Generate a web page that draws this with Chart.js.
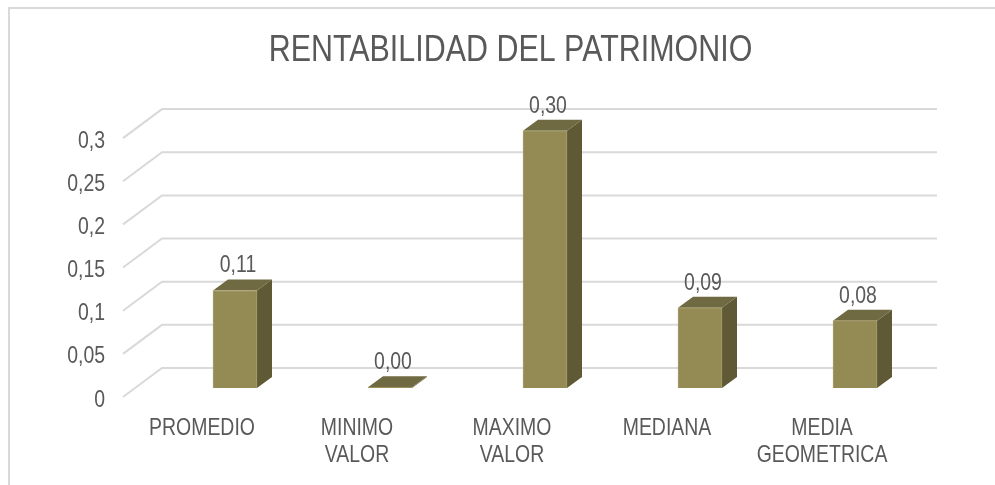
<!DOCTYPE html>
<html>
<head>
<meta charset="utf-8">
<style>
html, body { margin: 0; background: #fff; overflow: hidden; }
#wrap { position: relative; width: 995px; height: 485px; overflow: hidden; }
#frame { position: absolute; left: 8px; top: 7px; right: -5px; bottom: -5px; border: 2px solid #d9d9d9; }
canvas { position: absolute; left: 0; top: 0; }
</style>
<script src="https://cdn.jsdelivr.net/npm/chart.js@4"></script>
</head>
<body>
<div id="wrap"><div id="frame"></div><canvas id="roeChart" width="995" height="485"></canvas></div>
<script>
const categories = ['PROMEDIO', ['MINIMO', 'VALOR'], ['MAXIMO', 'VALOR'], 'MEDIANA', ['MEDIA', 'GEOMETRICA']];
const values = [0.113, 0.001, 0.298, 0.093, 0.078];
const valueLabels = ['0,11', '0,00', '0,30', '0,09', '0,08'];
const chartTitle = 'RENTABILIDAD DEL PATRIMONIO';

const fontName = '"Liberation Sans", Arial, sans-serif';
const textColor = '#595959';

// profundidad del grafico 3D
const wallDx = 39, wallDy = -29;
const barDx = 34.5, barDy = -9;
const sideDx = 15, sideDy = -11;

const ctx = document.getElementById('roeChart').getContext('2d');

// no hay Arial Narrow instalada: se estrecha el texto en horizontal
const textSqueeze = 0.81;
const plainFillText = ctx.fillText.bind(ctx);
ctx.fillText = function(text, x, y) {
    ctx.save();
    ctx.translate(x, y);
    ctx.scale(textSqueeze, 1);
    plainFillText(text, 0, 0);
    ctx.restore();
};

// paredes: lineas de cuadricula con la diagonal lateral
const wallPlugin = {
    id: 'wall',
    beforeDatasetsDraw(chart) {
        const y = chart.scales.y, a = chart.chartArea;
        ctx.save();
        ctx.strokeStyle = '#d9d9d9';
        ctx.lineWidth = 2;
        y.ticks.forEach(t => {
            const py = y.getPixelForValue(t.value);
            ctx.beginPath();
            ctx.moveTo(a.left, py);
            ctx.lineTo(a.left + wallDx, py + wallDy);
            ctx.lineTo(a.right + wallDx, py + wallDy);
            ctx.stroke();
        });
        ctx.restore();
        // las barras van desplazadas respecto al plano frontal
        ctx.save();
        ctx.translate(barDx, barDy);
        chart.getDatasetMeta(0).data.forEach(bar => {
            const l = bar.x - bar.width / 2, r = bar.x + bar.width / 2;
            ctx.fillStyle = '#5f5a35';
            ctx.beginPath();
            ctx.moveTo(r, bar.y);
            ctx.lineTo(r + sideDx, bar.y + sideDy);
            ctx.lineTo(r + sideDx, bar.base + sideDy);
            ctx.lineTo(r, bar.base);
            ctx.closePath();
            ctx.fill();
            ctx.fillStyle = '#6f6a41';
            ctx.beginPath();
            ctx.moveTo(l, bar.y);
            ctx.lineTo(l + sideDx, bar.y + sideDy);
            ctx.lineTo(r + sideDx, bar.y + sideDy);
            ctx.lineTo(r, bar.y);
            ctx.closePath();
            ctx.fill();
        });
    },
    afterDatasetsDraw(chart) {
        ctx.restore();
        ctx.save();
        ctx.fillStyle = textColor;
        ctx.font = '24px ' + fontName;
        ctx.textAlign = 'center';
        ctx.textBaseline = 'alphabetic';
        chart.getDatasetMeta(0).data.forEach((bar, i) => {
            ctx.fillText(valueLabels[i], bar.x + barDx + 3, bar.y + barDy - 18);
        });
        ctx.restore();
    }
};

new Chart(ctx, {
    type: 'bar',
    data: {
        labels: categories,
        datasets: [{
            data: values,
            backgroundColor: '#948a54',
            borderColor: '#a8a06c',
            borderWidth: 1,
            barThickness: 44
        }]
    },
    options: {
        responsive: false,
        animation: false,
        layout: { padding: { left: 0, right: 97, top: 0, bottom: 18 } },
        scales: {
            y: {
                min: 0,
                max: 0.3,
                afterFit(scale) { scale.width = 123; },
                grid: { display: false },
                border: { display: false },
                ticks: {
                    stepSize: 0.05,
                    color: textColor,
                    padding: 10,
                    labelOffset: 3,
                    font: { family: fontName, size: 24 },
                    callback: v => String(+v.toFixed(2)).replace('.', ',')
                }
            },
            x: {
                afterFit(scale) { scale.height = 70; },
                grid: { display: false },
                border: { display: false },
                ticks: {
                    color: textColor,
                    padding: 10,
                    labelOffset: 1.5,
                    maxRotation: 0,
                    autoSkip: false,
                    font: { family: fontName, size: 24, lineHeight: 1.125 }
                }
            }
        },
        plugins: {
            legend: { display: false },
            tooltip: { enabled: false },
            title: {
                display: true,
                text: chartTitle,
                fullSize: false,
                color: textColor,
                font: { family: fontName, size: 37.6, weight: 'normal', lineHeight: 1.2 },
                padding: { top: 28, bottom: 65 }
            }
        }
    },
    plugins: [wallPlugin]
});
</script>
</body>
</html>
